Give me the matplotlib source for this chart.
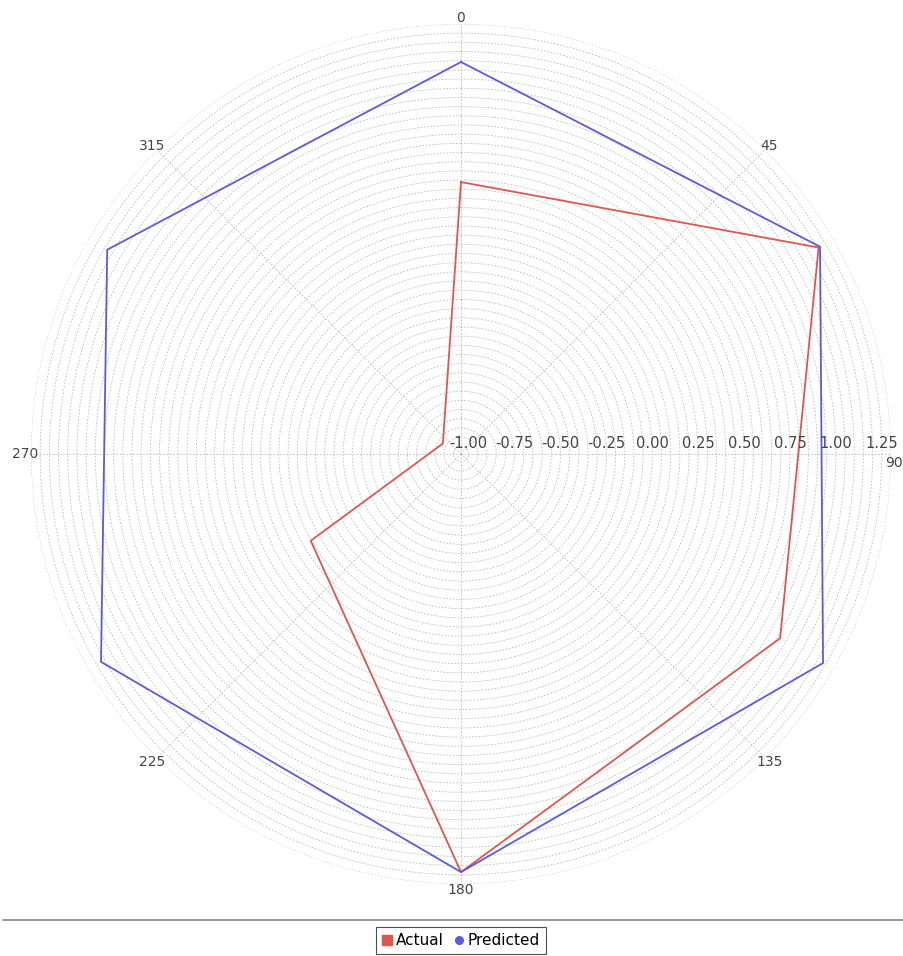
import numpy as np
import matplotlib
matplotlib.use("Agg")
import matplotlib.pyplot as plt
from matplotlib.lines import Line2D

# six directions, 60 degrees apart
angles_deg = [0, 60, 120, 180, 240, 300]
actual = [0.439, 1.207, 0.965, 1.235, -0.097, -0.928]
predicted = [1.093, 1.216, 1.235, 1.235, 1.222, 1.183]

radial_ticks = [-1.00, -0.75, -0.50, -0.25, 0.00, 0.25, 0.50, 0.75, 1.00, 1.25]
angle_ticks = [0, 45, 90, 135, 180, 225, 270, 315]

R_MIN, R_MAX = -1.042, 1.30

plt.rcParams['font.family'] = ['DejaVu Sans']

fig = plt.figure(figsize=(9.04, 9.56), dpi=100)
fig.patch.set_facecolor('white')

cx, cy, rad = 461, 454, 430
W, H = 904, 956
ax = fig.add_axes([(cx - rad) / W, (H - cy - rad) / H, 2 * rad / W, 2 * rad / H],
                  projection='polar')
ax.set_theta_zero_location('N')
ax.set_theta_direction(-1)
ax.set_ylim(R_MIN, R_MAX)
ax.set_facecolor('white')


def closed(vals):
    th = np.deg2rad(angles_deg + [angles_deg[0]])
    return th, list(vals) + [vals[0]]


th, r = closed(actual)
ax.plot(th, r, color='#e0564f', lw=1.3, zorder=3)
th, r = closed(predicted)
ax.plot(th, r, color='#5a5ae6', lw=1.3, zorder=3)

# grid: a dashed ring every 0.05 and a spoke every 45 degrees
ax.set_yticks(np.arange(-1.0, 1.3001, 0.05))
ax.set_yticklabels([])
ax.set_xticks(np.deg2rad(angle_ticks))
# the 90 label sits tucked against the right edge, drawn separately below
ax.set_xticklabels([str(a) if a != 90 else '' for a in angle_ticks],
                   fontsize=10, color='#444444')
ax.tick_params(axis='x', pad=-6)
ax.grid(True, color='#bcbcbc', linestyle=(0, (2, 2)), linewidth=0.6)
ax.spines['polar'].set_visible(False)
fig.text(903 / W, 1 - 463 / H, '90', ha='right', va='center',
         fontsize=10, color='#444444')

# radial axis labels along the 90 degree line
for v in radial_ticks:
    ax.annotate(f"{v:.2f}", xy=(np.deg2rad(90), v), xytext=(0, 2),
                textcoords='offset points', ha='center', va='bottom',
                fontsize=10.5, color='#444444', zorder=4)

# separator and legend underneath
fig.add_artist(Line2D([3 / W, 1.0], [1 - 920 / H, 1 - 920 / H],
                      color='#888888', lw=1.2))
handles = [
    Line2D([], [], marker='s', color='#e0564f', linestyle='none', markersize=6.5),
    Line2D([], [], marker='o', color='#5a5ae6', linestyle='none', markersize=5.5),
]
leg = fig.legend(handles, ['Actual', 'Predicted'], loc='lower center',
                 bbox_to_anchor=(461 / W, 0.0), ncol=2, frameon=True,
                 fancybox=False, fontsize=11, handlelength=0.7,
                 handletextpad=0.25, columnspacing=0.6, borderpad=0.4,
                 borderaxespad=0.1)
leg.get_frame().set_edgecolor('#222222')
leg.get_frame().set_linewidth(0.8)

fig.savefig('out.png', dpi=100, facecolor='white')
